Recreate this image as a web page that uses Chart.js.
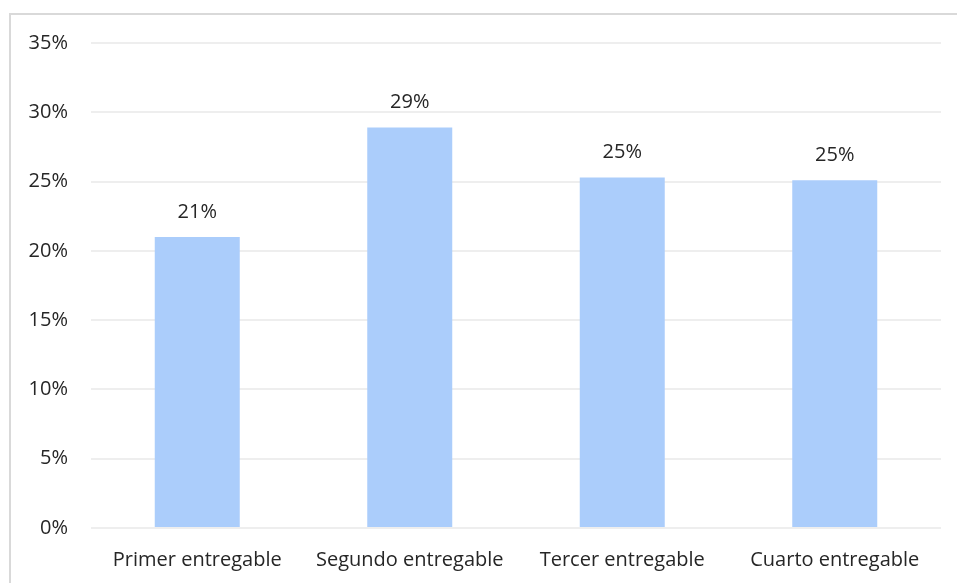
<!DOCTYPE html>
<html>
<head>
<meta charset="utf-8">
<script src="https://cdn.jsdelivr.net/npm/chart.js@4"></script>
<style>
  html, body { margin: 0; padding: 0; background: #fff; }
  #wrap { position: relative; width: 957px; height: 583px; }
  #frame { position: absolute; left: 9px; top: 13px; right: 0; bottom: 0;
           border-top: 2px solid #d9d9d9; border-left: 2px solid #d9d9d9; }
  canvas { position: absolute; left: 0; top: 0; }
</style>
</head>
<body>
<div id="wrap">
  <div id="frame"></div>
  <canvas id="chart" width="957" height="583"></canvas>
</div>
<script>
// Share of each deliverable
const categories = ["Primer entregable", "Segundo entregable", "Tercer entregable", "Cuarto entregable"];
const shares = [21, 28.9, 25.3, 25.1];
const yTicks = [0, 5, 10, 15, 20, 25, 30, 35];

const textColor = "#262626";
const font = { family: "'Open Sans', sans-serif", size: 20 };

// value labels on top of each bar
const barLabels = {
  id: "barLabels",
  afterDatasetsDraw(chart) {
    const ctx = chart.ctx;
    const meta = chart.getDatasetMeta(0);
    ctx.save();
    ctx.font = font.size + "px " + font.family;
    ctx.fillStyle = textColor;
    ctx.textAlign = "center";
    ctx.textBaseline = "middle";
    meta.data.forEach((bar, i) => {
      ctx.fillText(Math.round(shares[i]) + "%", bar.x, bar.y - 25);
    });
    ctx.restore();
  }
};

const ctx = document.getElementById("chart").getContext("2d");
new Chart(ctx, {
  type: "bar",
  data: {
    labels: categories,
    datasets: [
      {
        data: shares,
        backgroundColor: "#abcdfb",
        categoryPercentage: 1,
        barPercentage: 0.4
      }
    ]
  },
  options: {
    responsive: false,
    animation: false,
    layout: { padding: { left: 27, right: 16, top: 43, bottom: 0 } },
    plugins: { legend: { display: false }, tooltip: { enabled: false } },
    scales: {
      x: {
        grid: { display: false },
        border: { display: false },
        ticks: { color: textColor, font: font, padding: 12, maxRotation: 0, autoSkip: false },
        afterFit(scale) { scale.height = 55; }
      },
      y: {
        min: 0,
        max: 35,
        afterBuildTicks(scale) { scale.ticks = yTicks.map(v => ({ value: v })); },
        grid: { color: "#eeeeee", lineWidth: 2, drawTicks: false },
        border: { display: false },
        ticks: { color: textColor, font: font, padding: 23, callback: v => v + "%" },
        afterFit(scale) { scale.width = 64; }
      }
    }
  },
  plugins: [barLabels]
});
</script>
</body>
</html>
